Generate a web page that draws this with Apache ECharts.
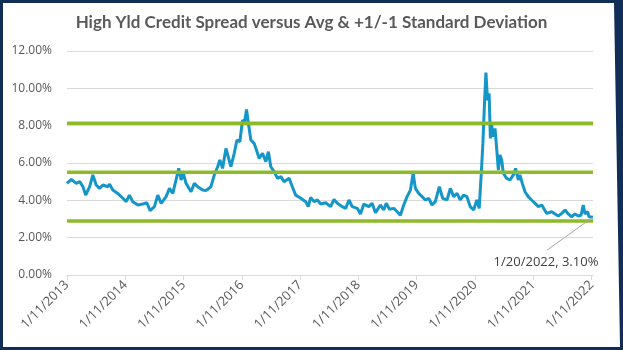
<!DOCTYPE html>
<html>
<head>
<meta charset="utf-8">
<title>High Yld Credit Spread</title>
<script src="https://cdn.jsdelivr.net/npm/echarts@6/dist/echarts.min.js"></script>
<style>
  html, body { margin: 0; padding: 0; background: #ffffff; }
  #chart { width: 623px; height: 350px; }
</style>
</head>
<body>
<div id="chart"></div>
<script>
// High-yield credit spread observations (percent)
const dates = [
  '2013-01-11','2013-02-07','2013-03-10','2013-04-01','2013-04-21','2013-05-08','2013-06-02','2013-06-22',
  '2013-07-13','2013-08-03','2013-08-24','2013-09-24','2013-10-05','2013-10-25','2013-11-25','2013-12-27',
  '2014-01-17','2014-02-06','2014-02-27','2014-03-31','2014-05-01','2014-05-26','2014-06-16','2014-07-13',
  '2014-08-03','2014-08-24','2014-09-24','2014-10-15','2014-11-05','2014-11-25','2014-12-12','2014-12-27',
  '2015-01-10','2015-01-27','2015-02-27','2015-03-20','2015-04-10','2015-05-11','2015-06-01','2015-07-02',
  '2015-07-23','2015-08-13','2015-08-27','2015-09-13','2015-10-04','2015-10-21','2015-11-04','2015-11-25',
  '2015-12-12','2015-12-30','2016-01-16','2016-01-29','2016-02-10','2016-02-22','2016-03-08','2016-03-29',
  '2016-04-12','2016-04-29','2016-05-20','2016-06-10','2016-06-26','2016-07-11','2016-08-01','2016-08-22',
  '2016-09-12','2016-10-02','2016-11-03','2016-11-23','2016-12-14','2017-01-15','2017-02-15','2017-03-03',
  '2017-03-18','2017-04-08','2017-04-29','2017-05-20','2017-06-20','2017-07-21','2017-08-11','2017-09-01',
  '2017-10-02','2017-10-23','2017-11-13','2017-12-03','2018-01-04','2018-01-24','2018-02-14','2018-03-17',
  '2018-04-07','2018-04-28','2018-05-29','2018-06-19','2018-07-04','2018-07-25','2018-08-21','2018-09-11',
  '2018-10-01','2018-10-22','2018-11-12','2018-12-03','2018-12-20','2019-01-03','2019-01-24','2019-02-14',
  '2019-03-07','2019-03-28','2019-04-17','2019-05-08','2019-06-02','2019-06-23','2019-07-20','2019-08-10',
  '2019-08-31','2019-09-21','2019-10-11','2019-11-01','2019-11-22','2019-12-13','2020-01-03','2020-01-23',
  '2020-02-07','2020-02-20','2020-03-01','2020-03-11','2020-03-20','2020-03-30','2020-04-09','2020-04-17',
  '2020-04-25','2020-05-06','2020-05-16','2020-05-27','2020-06-06','2020-06-16','2020-06-27','2020-07-07',
  '2020-07-28','2020-08-18','2020-09-08','2020-09-22','2020-10-09','2020-10-19','2020-11-03','2020-11-20',
  '2020-12-10','2020-12-31','2021-01-22','2021-02-12','2021-03-05','2021-04-05','2021-05-06','2021-05-27',
  '2021-06-17','2021-07-08','2021-07-29','2021-08-18','2021-09-08','2021-09-29','2021-10-20','2021-11-06',
  '2021-11-20','2021-12-01','2021-12-17','2021-12-26','2022-01-20'
];
const spread = [
  4.91,5.12,4.91,5.00,4.73,4.28,4.73,5.36,
  4.82,4.64,4.82,4.73,4.87,4.55,4.37,4.11,
  3.93,4.28,3.93,3.75,3.80,3.87,3.45,3.66,
  4.28,3.84,4.20,4.64,4.37,5.09,5.71,5.09,
  5.45,4.91,4.46,4.91,4.73,4.55,4.52,4.73,
  5.36,5.80,6.16,5.71,6.78,6.25,5.80,6.52,
  7.23,7.14,8.30,8.20,8.87,8.10,7.23,7.05,
  6.70,6.25,6.52,6.07,6.61,5.80,5.54,5.18,
  5.27,5.00,5.18,4.73,4.28,4.11,3.93,3.66,
  4.16,3.93,4.02,3.80,3.87,3.66,4.05,3.84,
  3.66,3.57,4.02,3.66,3.57,3.27,3.80,3.66,
  3.84,3.34,3.75,3.48,3.84,3.52,3.57,3.39,
  3.20,3.75,4.20,4.55,5.45,4.64,4.37,4.20,
  4.02,4.11,3.75,3.93,4.73,4.11,4.02,4.64,
  4.20,4.37,4.02,4.28,4.20,3.66,3.48,4.02,
  3.57,5.45,7.05,9.20,10.84,9.37,9.73,7.32,
  8.03,7.41,7.86,6.70,5.62,6.43,6.16,5.45,
  5.18,5.09,5.36,5.71,5.09,5.36,4.91,4.46,
  4.20,4.02,3.84,3.66,3.75,3.30,3.39,3.27,
  3.16,3.30,3.48,3.27,3.12,3.27,3.16,3.20,
  3.75,3.27,3.39,3.12,3.10
];

// Reference bands: long-run average and one standard deviation either side
const avgSpread = 5.51;
const stdDev = 2.62;
const bandLevels = [avgSpread + stdDev, avgSpread, avgSpread - stdDev];

// Y axis ticks (percent)
const yTicks = [0, 2, 4, 6, 8, 10, 12];

const startDate = '2013-01-11';
const YEAR_MS = 365.25 * 86400000;
const toYears = d => (Date.parse(d) - Date.parse(startDate)) / YEAR_MS;
const startYear = 2013;

const xs = dates.map(toYears);
const xEnd = xs[xs.length - 1];
const lastIdx = dates.length - 1;

function fmtDate(d) {
  const [y, m, day] = d.split('-').map(Number);
  return m + '/' + day + '/' + y;
}

const spreadData = xs.map((x, i) => [x, spread[i]]);

const bandSeries = bandLevels.map(v => ({
  type: 'line',
  data: [[0, v], [xEnd, v]],
  symbol: 'none',
  lineStyle: { color: '#8cba28', width: 3.5 },
  silent: true,
  z: 3
}));

const chart = echarts.init(document.getElementById('chart'), null, { renderer: 'canvas' });

chart.setOption({
  animation: false,
  backgroundColor: '#ffffff',
  title: {
    text: 'High Yld Credit Spread versus Avg & +1/-1 Standard Deviation',
    left: 'center',
    top: 9,
    textStyle: { fontFamily: 'Lato', fontWeight: 'bold', fontSize: 17, color: '#595959' }
  },
  grid: { left: 67, right: 30, top: 51, bottom: 75 },
  xAxis: {
    type: 'value',
    min: 0,
    max: xEnd,
    interval: 1,
    splitLine: { show: false },
    axisLine: { show: true, lineStyle: { color: '#d9d9d9', width: 1 } },
    axisTick: { show: true, length: 5, lineStyle: { color: '#d9d9d9' } },
    axisLabel: {
      rotate: 45,
      showMaxLabel: false,
      margin: 8,
      color: '#595959',
      fontSize: 13,
      fontFamily: 'Open Sans',
      formatter: v => '1/11/' + (startYear + Math.round(v))
    }
  },
  yAxis: {
    type: 'value',
    min: yTicks[0],
    max: yTicks[yTicks.length - 1],
    interval: 2,
    axisLine: { show: false },
    axisTick: { show: false },
    splitLine: { lineStyle: { color: '#d9d9d9', width: 1 } },
    axisLabel: {
      margin: 15,
      color: '#595959',
      fontSize: 12,
      fontFamily: 'Open Sans',
      formatter: v => v.toFixed(2) + '%'
    }
  },
  series: [
    {
      type: 'line',
      data: spreadData,
      symbol: 'none',
      lineStyle: { color: '#1496c8', width: 3 },
      z: 2
    },
    ...bandSeries
  ]
});

// Callout for the latest observation, anchored at that point's pixel position
const endPt = chart.convertToPixel({ seriesIndex: 0 }, spreadData[lastIdx]);
const calloutText = fmtDate(dates[lastIdx]) + ', ' + spread[lastIdx].toFixed(2) + '%';
chart.setOption({
  graphic: [
    {
      type: 'line',
      silent: true,
      shape: { x1: endPt[0], y1: endPt[1], x2: endPt[0] - 46, y2: endPt[1] + 33 },
      style: { stroke: '#a6a6a6', lineWidth: 1 },
      z: 50
    },
    {
      type: 'text',
      silent: true,
      x: endPt[0] - 47,
      y: endPt[1] + 45,
      style: {
        text: calloutText,
        fill: '#404040',
        font: '13px "Open Sans"',
        align: 'center',
        verticalAlign: 'middle'
      },
      z: 50
    },
    {
      type: 'polygon',
      silent: true,
      shape: {
        points: [[0, 0], [623, 0], [623, 350], [0, 350], [0, 0],
                 [3, 3], [3, 347], [620, 347], [614, 3], [3, 3]]
      },
      style: { fill: '#112e57' },
      z: 100
    }
  ]
});
</script>
</body>
</html>
